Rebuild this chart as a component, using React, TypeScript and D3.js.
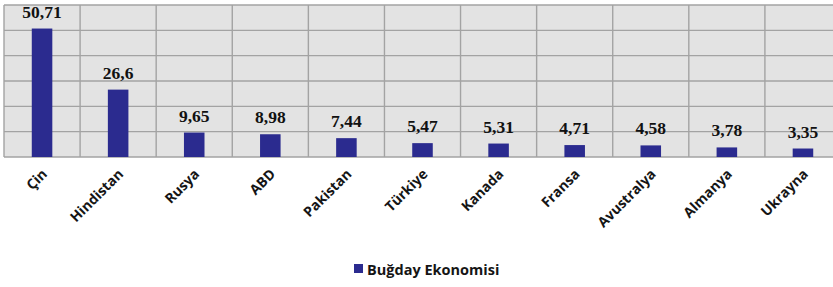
import React, { useEffect, useRef } from 'react';
import * as d3 from 'd3';

const countries = ['Çin', 'Hindistan', 'Rusya', 'ABD', 'Pakistan', 'Türkiye', 'Kanada', 'Fransa', 'Avustralya', 'Almanya', 'Ukrayna'];
const values = [50.71, 26.6, 9.65, 8.98, 7.44, 5.47, 5.31, 4.71, 4.58, 3.78, 3.35];
const yTicks = [0, 10, 20, 30, 40, 50, 60];
const seriesName = 'Buğday Ekonomisi';

const App = () => {
  const svgRef = useRef(null);

  useEffect(() => {
    const width = 833;
    const height = 287;
    const plot = { left: 4, right: 841, top: 5, bottom: 157 };

    const svg = d3.select(svgRef.current)
      .attr('width', width)
      .attr('height', height);
    svg.selectAll('*').remove();

    const x = d3.scaleBand()
      .domain(countries)
      .range([plot.left, plot.right])
      .padding(0);

    const y = d3.scaleLinear()
      .domain([0, 60])
      .range([plot.bottom, plot.top]);

    // plot background
    svg.append('rect')
      .attr('x', plot.left)
      .attr('y', plot.top)
      .attr('width', plot.right - plot.left)
      .attr('height', plot.bottom - plot.top)
      .attr('fill', '#e3e3e3');

    // horizontal grid
    svg.selectAll('.hgrid')
      .data(yTicks)
      .enter().append('line')
      .attr('class', 'hgrid')
      .attr('x1', plot.left)
      .attr('x2', plot.right)
      .attr('y1', d => y(d))
      .attr('y2', d => y(d))
      .attr('stroke', '#a3a3a3')
      .attr('stroke-width', 1.4);

    // vertical grid at category boundaries
    const bounds = countries.map(c => x(c)).concat([plot.right]);
    svg.selectAll('.vgrid')
      .data(bounds)
      .enter().append('line')
      .attr('class', 'vgrid')
      .attr('x1', d => d)
      .attr('x2', d => d)
      .attr('y1', plot.top)
      .attr('y2', plot.bottom)
      .attr('stroke', '#a3a3a3')
      .attr('stroke-width', 1.4);

    const barW = x.bandwidth() * 0.27;

    svg.selectAll('.bar')
      .data(values)
      .enter().append('rect')
      .attr('class', 'bar')
      .attr('x', (d, i) => x(countries[i]) + x.bandwidth() / 2 - barW / 2)
      .attr('y', d => y(d))
      .attr('width', barW)
      .attr('height', d => plot.bottom - y(d))
      .attr('fill', '#2b2b8f');

    svg.selectAll('.val')
      .data(values)
      .enter().append('text')
      .attr('class', 'val')
      .attr('x', (d, i) => x(countries[i]) + x.bandwidth() / 2)
      .attr('y', d => y(d) - 11)
      .attr('text-anchor', 'middle')
      .style('font-family', '"Liberation Serif", "Times New Roman", serif')
      .style('font-weight', 'bold')
      .style('font-size', '17.5px')
      .attr('fill', '#111')
      .text(d => String(d).replace('.', ','));

    // category labels, rotated
    svg.selectAll('.cat')
      .data(countries)
      .enter().append('text')
      .attr('class', 'cat')
      .attr('transform', d => `translate(${x(d) + x.bandwidth() / 2 + 6},${plot.bottom + 18}) rotate(-45)`)
      .attr('text-anchor', 'end')
      .style('font-family', '"Open Sans", Lato, sans-serif')
      .style('font-weight', 'bold')
      .style('font-size', '14px')
      .attr('fill', '#151515')
      .text(d => d);

    // legend
    const legend = svg.append('g').attr('transform', 'translate(354,264)');
    legend.append('rect')
      .attr('x', 0)
      .attr('y', 0)
      .attr('width', 9)
      .attr('height', 9)
      .attr('fill', '#2b2b8f');
    legend.append('text')
      .attr('x', 13)
      .attr('y', 10.5)
      .style('font-family', '"Open Sans", Lato, sans-serif')
      .style('font-weight', 'bold')
      .style('font-size', '14.5px')
      .attr('fill', '#151515')
      .text(seriesName);
  }, []);

  return (
    <svg ref={svgRef} style={{ position: 'absolute', left: 0, top: 0, background: '#fff' }}></svg>
  );
};

export default App;
